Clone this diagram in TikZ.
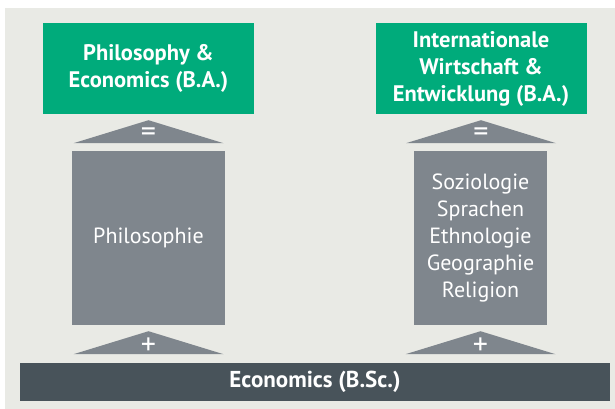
\documentclass[tikz,border=0pt]{standalone}
\usepackage{fontspec}
\setmainfont{PT Sans}
\usetikzlibrary{calc}

\definecolor{bggray}{HTML}{E9EAE5}
\definecolor{degreegreen}{HTML}{00AB7B}
\definecolor{subjgray}{HTML}{7F868D}
\definecolor{bardark}{HTML}{48535A}

\tikzset{
  degree/.style  = {shape=rectangle, fill=degreegreen, text=white,
                    align=center, inner sep=0pt,
                    minimum width=211pt, minimum height=91pt,
                    font=\bfseries\fontsize{22.5}{27}\selectfont},
  subject/.style = {shape=rectangle, fill=subjgray, text=white,
                    align=center, inner sep=0pt, minimum height=174pt,
                    font=\fontsize{22}{27}\selectfont},
  basebar/.style = {shape=rectangle, fill=bardark, text=white,
                    inner sep=0pt, minimum width=590pt, minimum height=38pt,
                    font=\bfseries\fontsize{23}{27}\selectfont},
  roof/.style    = {fill=subjgray},
  sign/.style    = {text=white, inner sep=0pt, font=\fontsize{30}{30}\selectfont}
}

\begin{document}
\begin{tikzpicture}
[
    x=1pt, y=-1pt
  ]
\useasboundingbox (0,0) rectangle (615,409);
\fill[bggray] (5,8) rectangle (615,409);

\node[degree] (pe)  at (148.5,68.5) {Philosophy \&\\Economics (B.A.)};
\node[degree] (iwe) at (481,68.5)   {Internationale\\Wirtschaft \&\\Entwicklung (B.A.)};

\node[subject, minimum width=153pt] (philo) at (148.5,238) {Philosophie};
\node[subject, minimum width=133pt] (soz)   at (480.5,238)
     {Soziologie\\Sprachen\\Ethnologie\\Geographie\\Religion};

\node[basebar] (eco) at (315,382) {Economics (B.Sc.)};

\fill[roof] ($(pe.south)+(-75,29)$) -- ($(pe.south)+(0,6)$)
            -- ($(pe.south)+(75,29)$) -- cycle;
\fill[roof] ($(iwe.south)+(-75,29)$) -- ($(iwe.south)+(0,6)$)
            -- ($(iwe.south)+(75,29)$) -- cycle;
\fill[roof] ($(philo.south)+(-75,29)$) -- ($(philo.south)+(0,6)$)
            -- ($(philo.south)+(75,29)$) -- cycle;
\fill[roof] ($(soz.south)+(-75,29)$) -- ($(soz.south)+(0,6)$)
            -- ($(soz.south)+(75,29)$) -- cycle;

\node[sign] (eqL)   at ($(pe.south)+(0,20)$)    {=};
\node[sign] (eqR)   at ($(iwe.south)+(0,20)$)   {=};
\node[sign] (plusL) at ($(philo.south)+(0,21)$) {+};
\node[sign] (plusR) at ($(soz.south)+(0,21)$)   {+};
\end{tikzpicture}
\end{document}
